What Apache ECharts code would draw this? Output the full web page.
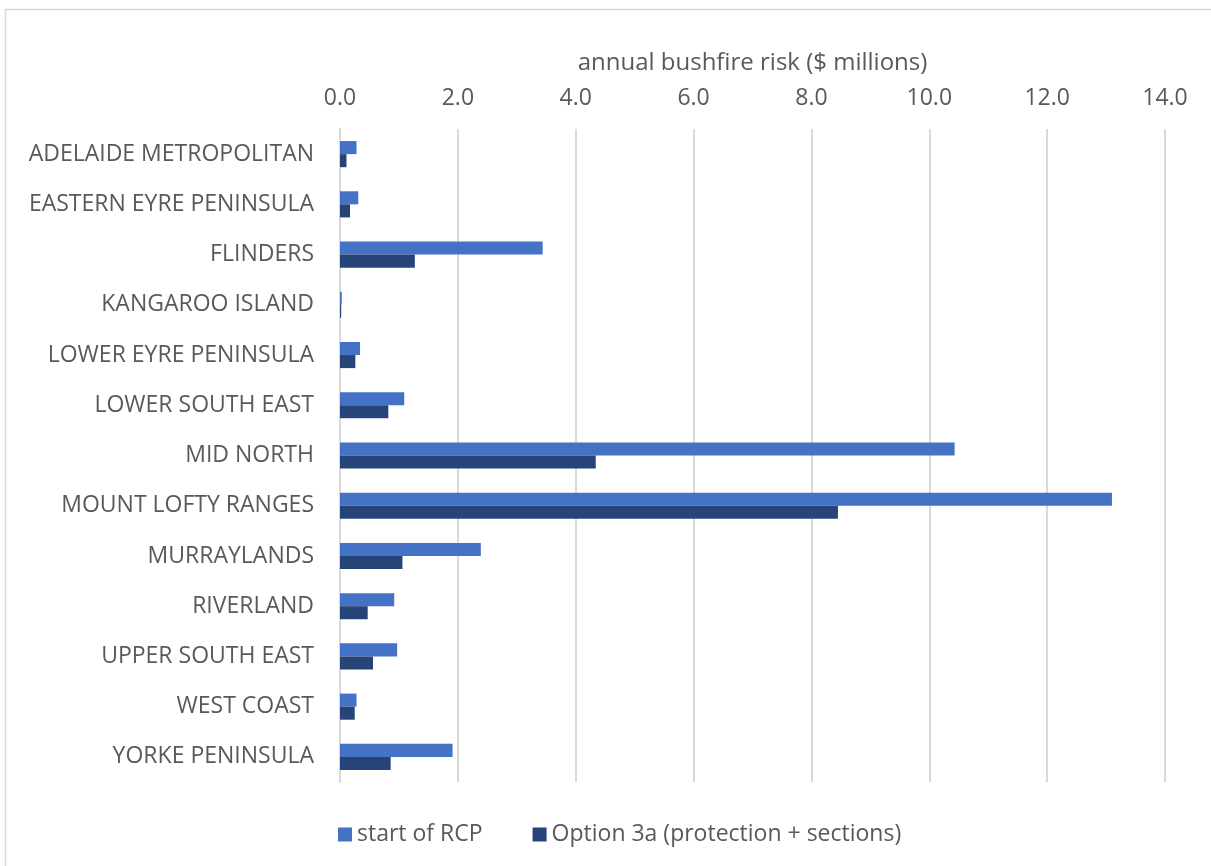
<!DOCTYPE html>
<html>
<head>
<meta charset="utf-8">
<script src="https://cdn.jsdelivr.net/npm/echarts@6/dist/echarts.min.js"></script>
<style>
  html, body { margin: 0; padding: 0; background: #ffffff; }
  #chart { width: 1211px; height: 866px; }
</style>
</head>
<body>
<div id="chart"></div>
<script>
// Regions, listed top to bottom
const regions = [
  'ADELAIDE METROPOLITAN',
  'EASTERN EYRE PENINSULA',
  'FLINDERS',
  'KANGAROO ISLAND',
  'LOWER EYRE PENINSULA',
  'LOWER SOUTH EAST',
  'MID NORTH',
  'MOUNT LOFTY RANGES',
  'MURRAYLANDS',
  'RIVERLAND',
  'UPPER SOUTH EAST',
  'WEST COAST',
  'YORKE PENINSULA'
];

// Annual bushfire risk, $ millions
const startOfRcp = [0.28, 0.31, 3.44, 0.03, 0.34, 1.09, 10.43, 13.10, 2.39, 0.92, 0.97, 0.28, 1.91];
const option3a   = [0.11, 0.17, 1.27, 0.02, 0.26, 0.82, 4.34, 8.45, 1.06, 0.47, 0.56, 0.25, 0.86];

const seriesNames = ['start of RCP', 'Option 3a (protection + sections)'];
const axisTitle = 'annual bushfire risk ($ millions)';

const textColor = '#595959';
const fontFamily = '"Open Sans", "DejaVu Sans", sans-serif';

const chart = echarts.init(document.getElementById('chart'), null, { renderer: 'canvas' });

chart.setOption({
  backgroundColor: '#ffffff',
  animation: false,
  textStyle: { fontFamily: fontFamily, color: textColor },
  graphic: [{
    type: 'rect',
    shape: { x: 5.5, y: 9.5, width: 1230, height: 880 },
    style: { fill: 'none', stroke: '#d9d9d9', lineWidth: 1.5 },
    silent: true,
    z: -10
  }],
  grid: { left: 340, right: 46, top: 129, bottom: 84, containLabel: false },
  legend: {
    bottom: 15,
    left: 333,
    itemWidth: 14,
    itemHeight: 14,
    itemGap: 50,
    icon: 'rect',
    textStyle: { fontSize: 23, color: textColor, fontFamily: fontFamily },
    data: seriesNames
  },
  xAxis: {
    type: 'value',
    position: 'top',
    min: 0,
    max: 14,
    interval: 2,
    name: axisTitle,
    nameLocation: 'middle',
    nameGap: 54,
    nameTextStyle: { fontSize: 24, color: textColor, fontFamily: fontFamily },
    axisLine: { show: false },
    axisTick: { show: false },
    axisLabel: {
      fontSize: 23,
      color: textColor,
      margin: 19,
      formatter: v => v.toFixed(1)
    },
    splitLine: { show: true, lineStyle: { color: '#d9d9d9', width: 2 } }
  },
  yAxis: {
    type: 'category',
    inverse: true,
    data: regions,
    axisLine: { show: true, lineStyle: { color: '#d9d9d9', width: 2 } },
    axisTick: { show: false },
    axisLabel: { fontSize: 23, color: textColor, margin: 26 }
  },
  series: [
    {
      name: seriesNames[0],
      type: 'bar',
      data: startOfRcp,
      barGap: '0%',
      barCategoryGap: '48%',
      itemStyle: { color: '#4472c4' }
    },
    {
      name: seriesNames[1],
      type: 'bar',
      data: option3a,
      barGap: '0%',
      barCategoryGap: '48%',
      itemStyle: { color: '#264478' }
    }
  ]
});
</script>
</body>
</html>
